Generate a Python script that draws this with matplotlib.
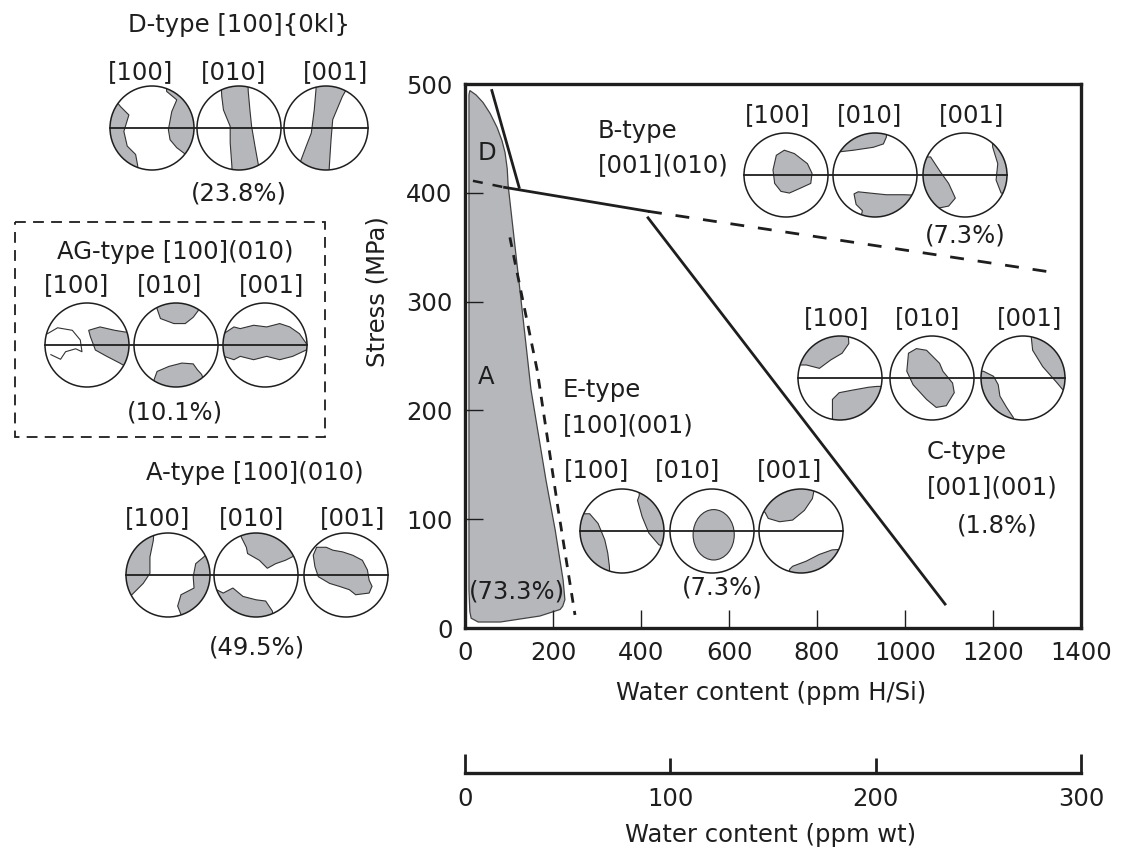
import numpy as np
import matplotlib
matplotlib.use("Agg")
from matplotlib import pyplot as plt
from matplotlib.patches import Circle, Polygon, Ellipse, Rectangle

plt.rcParams['font.family'] = ['DejaVu Sans']
FS = 17.5
INK = "#1e1e1e"
GRAY = "#b6b7bb"

# ---- data (water content in ppm H/Si, stress in MPa) ----
x_ticks = [0, 200, 400, 600, 800, 1000, 1200, 1400]
y_ticks = [0, 100, 200, 300, 400, 500]
wt_ticks = [0, 100, 200, 300]

# A/D field (gray)
region_x = [11, 25, 41, 57, 73, 84, 91, 96, 98, 125, 150, 184, 205, 223, 227, 222, 216, 170, 80, 30, 14, 11, 9, 9]
region_y = [494, 490, 483, 473, 460, 448, 437, 422, 407, 310, 219, 136, 90, 44, 26, 20, 17, 11, 5.5, 5.5, 9, 15, 35, 490]

# boundaries
db_x, db_y = [61, 123], [494, 405]                 # D / B (solid)
ba_left_x, ba_left_y = [18, 90], [411, 405]        # dashed stub
ba_x, ba_y = [90, 416], [405, 383]                 # B / A (solid)
bc_x, bc_y = [416, 1350], [383, 326]               # B / C (dashed)
c_x, c_y = [416, 1091], [377, 22]                  # C boundary (solid)
e_x, e_y = [102, 164, 211, 250], [359, 237, 111, 12]  # E boundary (dashed)

# pole figure blobs, unit circle coords (x right, y up)
D100 = [[(-0.9, 0.7), (-0.75, 0.51), (-0.55, 0.31), (-0.67, -0.08), (-0.59, -0.43), (-0.39, -0.63),
         (-0.34, -0.9), (-0.3, -1.5), (-1.5, -1.5), (-1.5, 0.9)],
        [(0.3, 1.5), (0.35, 0.87), (0.59, 0.67), (0.47, 0.39), (0.39, -0.04), (0.43, -0.28), (0.59, -0.47),
         (0.75, -0.59), (0.95, -0.75), (1.5, -0.8), (1.5, 1.5)]]
D010 = [[(-0.45, 1.5), (-0.41, 0.75), (-0.37, 0.43), (-0.21, 0.04), (-0.21, -0.35), (-0.17, -0.9), (-0.15, -1.5),
         (0.5, -1.5), (0.46, -0.87), (0.38, -0.43), (0.3, 0.04), (0.26, 0.43), (0.22, 0.87), (0.2, 1.5)]]
D001 = [[(-0.2, 1.5), (-0.24, 0.9), (-0.28, 0.43), (-0.35, -0.12), (-0.47, -0.43), (-0.59, -0.75), (-0.8, -1.3),
         (0.05, -1.5), (0.08, -0.9), (0.12, -0.28), (0.16, 0.2), (0.39, 0.75), (0.7, 1.3)]]

AG100 = [[(0.04, 0.35), (0.31, 0.43), (0.66, 0.35), (0.9, 0.31), (1.5, 0.3), (1.5, -0.8), (0.9, -0.5),
          (0.78, -0.43), (0.47, -0.27), (0.2, -0.12), (0.08, 0.2)]]
AG100_line = [(-0.94, 0.27), (-0.7, 0.41), (-0.35, 0.35), (-0.16, 0.12), (-0.12, -0.16), (-0.27, -0.09),
              (-0.51, -0.16), (-0.63, -0.34), (-0.86, -0.23)]
AG010 = [[(-0.5, 1.5), (-0.45, 0.86), (-0.37, 0.63), (-0.05, 0.51), (0.22, 0.51), (0.41, 0.66), (0.53, 0.82), (0.7, 1.5)],
         [(-0.55, -1.5), (-0.52, -0.82), (-0.45, -0.63), (-0.17, -0.51), (0.14, -0.43), (0.41, -0.45), (0.51, -0.59),
          (0.61, -0.7), (0.9, -1.5)]]
AG001 = [[(-1.5, 0.27), (-0.98, 0.27), (-0.74, 0.43), (-0.59, 0.39), (-0.27, 0.47), (0.04, 0.43), (0.35, 0.51),
          (0.59, 0.43), (0.82, 0.27), (0.98, 0.04), (1.5, 0.0), (1.5, -0.12), (0.98, -0.12), (0.66, -0.27),
          (0.35, -0.35), (0.04, -0.27), (-0.27, -0.35), (-0.59, -0.27), (-0.74, -0.35), (-0.98, -0.27), (-1.5, -0.27)]]

A100 = [[(-0.3, 1.5), (-0.35, 0.82), (-0.43, 0.43), (-0.43, 0.04), (-0.59, -0.2), (-0.86, -0.47), (-1.5, -0.8), (-1.5, 1.5)],
        [(1.5, 0.6), (0.9, 0.47), (0.66, 0.27), (0.6, -0.04), (0.62, -0.31), (0.31, -0.47), (0.23, -0.74),
         (0.31, -0.94), (0.35, -1.5), (1.5, -1.5)]]
A010 = [[(-0.4, 1.5), (-0.35, 0.9), (-0.23, 0.66), (-0.2, 0.51), (0.08, 0.35), (0.27, 0.16), (0.47, 0.27),
         (0.7, 0.35), (0.94, 0.47), (1.5, 0.6), (1.5, 1.5)],
        [(-1.5, -0.3), (-0.94, -0.35), (-0.78, -0.43), (-0.55, -0.31), (-0.31, -0.51), (0, -0.59), (0.23, -0.62),
         (0.39, -0.86), (0.45, -1.5), (-1.5, -1.5)]]
A001 = [[(-0.7, 0.66), (-0.47, 0.66), (-0.31, 0.59), (-0.08, 0.55), (0.16, 0.47), (0.39, 0.35), (0.51, 0.12),
         (0.55, -0.12), (0.62, -0.27), (0.55, -0.43), (0.23, -0.47), (0.08, -0.35), (-0.16, -0.27), (-0.39, -0.2),
         (-0.66, -0.04), (-0.74, 0.2), (-0.78, 0.47)]]

B100 = [[(-0.23, 0.47), (-0.04, 0.59), (0.2, 0.51), (0.51, 0.27), (0.62, 0.04), (0.59, -0.2), (0.35, -0.31),
         (0.08, -0.43), (-0.12, -0.39), (-0.27, -0.2), (-0.31, 0.12)]]
B010 = [[(-1.5, 0.55), (-0.86, 0.55), (-0.51, 0.59), (-0.04, 0.66), (0.2, 0.74), (0.27, 0.9), (0.3, 1.5), (-1.5, 1.5)],
        [(-0.45, -1.5), (-0.3, -0.85), (-0.45, -0.7), (-0.5, -0.45), (-0.4, -0.4), (-0.12, -0.43), (0.27, -0.47),
         (0.7, -0.47), (1.5, -0.5), (1.5, -1.5)]]
B001 = [[(-1.5, 0.43), (-0.82, 0.43), (-0.59, 0.08), (-0.39, -0.2), (-0.23, -0.55), (-0.39, -0.74), (-0.59, -0.78),
         (-1.5, -0.9)],
        [(0.6, 1.5), (0.66, 0.66), (0.78, 0.27), (0.74, -0.12), (0.86, -0.43), (1.5, -0.5), (1.5, 1.5)]]

C100 = [[(-1.5, 0.31), (-0.8, 0.31), (-0.49, 0.23), (-0.22, 0.43), (0.05, 0.59), (0.21, 0.82), (0.17, 1.5), (-1.5, 1.5)],
        [(-0.18, -1.5), (-0.18, -0.51), (-0.02, -0.35), (0.29, -0.29), (0.68, -0.22), (0.88, -0.2), (1.5, -0.2),
         (1.5, -1.5)]]
C010 = [[(-0.56, 0.59), (-0.37, 0.7), (-0.13, 0.66), (0.18, 0.35), (0.26, 0.16), (0.49, -0.12), (0.53, -0.35),
         (0.34, -0.66), (0.1, -0.7), (-0.13, -0.51), (-0.45, -0.16), (-0.6, 0.16)]]
C001 = [[(0.2, 1.5), (0.2, 0.94), (0.23, 0.66), (0.47, 0.27), (0.78, -0.08), (0.94, -0.27), (1.5, -0.4), (1.5, 1.5)],
        [(-1.5, 0.16), (-0.94, 0.16), (-0.7, 0.04), (-0.59, -0.16), (-0.55, -0.43), (-0.39, -0.7), (-0.23, -0.94),
         (-0.2, -1.5), (-1.5, -1.5)]]

E100 = [[(-1.5, 0.41), (-0.77, 0.41), (-0.57, 0.18), (-0.41, -0.21), (-0.34, -0.52), (-0.3, -0.84), (-0.28, -1.5),
         (-1.5, -1.5)],
        [(0.41, 1.5), (0.41, 0.84), (0.37, 0.73), (0.48, 0.34), (0.64, -0.05), (0.88, -0.33), (1.5, -0.5), (1.5, 1.5)]]
E010_ellipse = (0.04, -0.09, 0.98, 1.2)
E001 = [[(-1.5, 0.45), (-0.86, 0.45), (-0.78, 0.3), (-0.51, 0.22), (-0.2, 0.26), (0.08, 0.49), (0.27, 0.77),
         (0.31, 0.96), (0.32, 1.5), (-1.5, 1.5)],
        [(-0.3, -1.5), (-0.27, -0.91), (-0.2, -0.84), (0.12, -0.72), (0.43, -0.56), (0.74, -0.45), (1.5, -0.4),
         (1.5, -1.5)]]


fig = plt.figure(figsize=(11.22, 8.56), dpi=100)

# ---- main stress / water content diagram ----
ax = fig.add_axes([465 / 1122, (856 - 628) / 856, 616 / 1122, 544 / 856])
ax.fill(region_x, region_y, facecolor=GRAY, edgecolor="#444444", lw=0.9, zorder=1)
ax.plot(db_x, db_y, color=INK, lw=2.0)
ax.plot(ba_left_x, ba_left_y, color=INK, lw=1.8, dashes=(4, 4))
ax.plot(ba_x, ba_y, color=INK, lw=2.0)
ax.plot(bc_x, bc_y, color=INK, lw=2.0, dashes=(5, 5))
ax.plot(c_x, c_y, color=INK, lw=2.0)
ax.plot(e_x, e_y, color=INK, lw=2.0, dashes=(3.5, 3))
ax.set_xlim(0, 1400)
ax.set_ylim(0, 500)
ax.set_xticks(x_ticks)
ax.set_yticks(y_ticks)
ax.tick_params(direction="in", length=13, width=1.0, color=INK, labelsize=FS, labelcolor=INK, pad=9)
for s in ax.spines.values():
    s.set_linewidth(2.4)
    s.set_color(INK)

# ---- ppm wt scale ----
ax2 = fig.add_axes([465 / 1122, (856 - 773) / 856, 616 / 1122, 0.001])
ax2.set_xlim(0, 300)
ax2.set_yticks([])
for k in ["top", "left", "right"]:
    ax2.spines[k].set_visible(False)
ax2.spines["bottom"].set_linewidth(2.4)
ax2.spines["bottom"].set_color(INK)
ax2.set_xticks([wt_ticks[0], wt_ticks[-1]])
ax2.set_xticks(wt_ticks[1:-1], minor=True)
ax2.set_xticklabels([str(wt_ticks[0]), str(wt_ticks[-1])])
ax2.set_xticklabels([str(t) for t in wt_ticks[1:-1]], minor=True)
ax2.tick_params(which="major", direction="in", length=14, width=2.0, color=INK, labelsize=FS, labelcolor=INK, pad=10)
ax2.tick_params(which="minor", direction="in", length=11, width=2.0, color=INK, labelsize=FS, labelcolor=INK, pad=10)
ax2.patch.set_alpha(0)

# ---- overlay in pixel coordinates for labels and pole figures ----
ov = fig.add_axes([0, 0, 1, 1], zorder=5)
ov.set_xlim(0, 1122)
ov.set_ylim(856, 0)
ov.axis("off")
ov.patch.set_alpha(0)

R = 42


def txt(x, y, s, ha="center", **kw):
    ov.text(x, y, s, ha=ha, va="center", fontsize=FS, color=INK, **kw)


def pole(cx, cy, blobs, line=None, ellipse=None):
    circ = Circle((cx, cy), R, facecolor="white", edgecolor="none", zorder=6)
    ov.add_patch(circ)
    for b in blobs:
        pts = [(cx + R * u, cy - R * v) for u, v in b]
        p = Polygon(pts, closed=True, facecolor=GRAY, edgecolor="#333333", lw=0.8, zorder=7)
        ov.add_patch(p)
        p.set_clip_path(circ)
    if ellipse is not None:
        ex, ey, ew, eh = ellipse
        e = Ellipse((cx + R * ex, cy - R * ey), R * ew, R * eh, facecolor=GRAY, edgecolor="#333333", lw=0.8, zorder=7)
        ov.add_patch(e)
    if line is not None:
        l, = ov.plot([cx + R * u for u, v in line], [cy - R * v for u, v in line], color="#333333", lw=0.8, zorder=7)
        l.set_clip_path(circ)
    ov.add_patch(Circle((cx, cy), R, facecolor="none", edgecolor=INK, lw=1.1, zorder=8))


def row(xs, cy, blob_list, labels_x, label_y, extra=None):
    extra = extra or {}
    for i, (cx, bl) in enumerate(zip(xs, blob_list)):
        pole(cx, cy, bl, **extra.get(i, {}))
    ov.plot([xs[0] - R, xs[-1] + R], [cy, cy], color=INK, lw=1.3, zorder=9)
    for lx, lab in zip(labels_x, ["[100]", "[010]", "[001]"]):
        txt(lx, label_y, lab)


# D-type
txt(239, 25, "D-type [100]{0kl}")
row([152, 239, 326], 128, [D100, D010, D001], [141, 234, 336], 72)
txt(239, 193, "(23.8%)")

# AG-type (dashed box)
ov.add_patch(Rectangle((15, 222), 310, 215, fill=False, edgecolor=INK, lw=1.3, ls=(0, (6, 4))))
txt(175, 252, "AG-type [100](010)")
row([87, 176, 265], 345, [AG100, AG010, AG001], [77, 170, 272], 285, {0: {"line": AG100_line}})
txt(175, 412, "(10.1%)")

# A-type
txt(255, 473, "A-type [100](010)")
row([168, 256, 346], 575, [A100, A010, A001], [158, 252, 353], 518)
txt(257, 648, "(49.5%)")

# B-type
txt(598, 131, "B-type", ha="left")
txt(598, 165, "[001](010)", ha="left")
row([786, 875, 965], 175, [B100, B010, B001], [778, 870, 972], 115)
txt(965, 235, "(7.3%)")

# C-type
row([840, 932, 1023], 378, [C100, C010, C001], [837, 928, 1030], 318)
txt(927, 452, "C-type", ha="left")
txt(927, 487, "[001](001)", ha="left")
txt(997, 525, "(1.8%)")

# E-type
txt(563, 390, "E-type", ha="left")
txt(563, 425, "[100](001)", ha="left")
row([622, 712, 801], 531, [E100, [], E001], [597, 688, 790], 470, {1: {"ellipse": E010_ellipse}})
txt(722, 588, "(7.3%)")

# field labels
txt(487, 153, "D")
txt(486, 377, "A")
txt(517, 592, "(73.3%)")

# axis titles
txt(378, 292, "Stress (MPa)", rotation=90)
txt(771, 693, "Water content (ppm H/Si)")
txt(771, 835, "Water content (ppm wt)")

fig.savefig("out.png", dpi=100)
